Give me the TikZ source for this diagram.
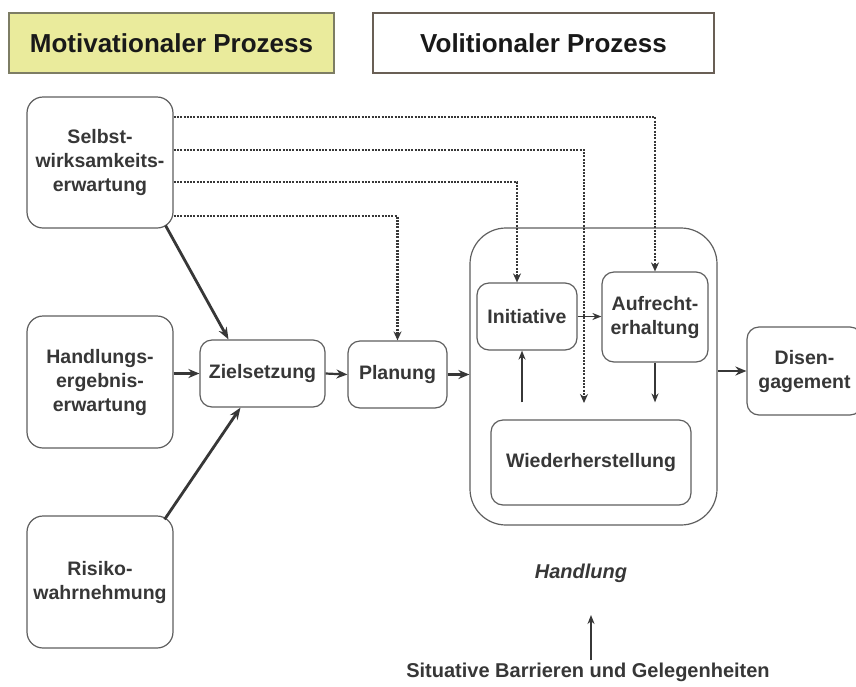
\documentclass[tikz,border=0pt]{standalone}
\usepackage{fontspec}
\setmainfont{Liberation Sans}
\usetikzlibrary{arrows.meta}

\definecolor{boxline}{RGB}{95,95,95}
\definecolor{boxtext}{RGB}{55,55,55}
\definecolor{motfill}{RGB}{234,235,156}
\definecolor{motline}{RGB}{125,125,100}
\definecolor{volline}{RGB}{105,95,85}
\definecolor{arrowcol}{RGB}{55,55,55}

\begin{document}
\begin{tikzpicture}[x=1pt,y=-1pt,
  title/.style={draw, line width=2pt, minimum height=60pt, inner sep=0pt,
    text=black!90, font=\fontsize{26}{30}\selectfont\bfseries},
  stage/.style={draw=boxline, line width=1.2pt, rounded corners=12pt, inner sep=0pt,
    align=center, text=boxtext, font=\fontsize{19.5}{24}\selectfont\bfseries},
  bigstage/.style={stage, rounded corners=16pt},
  solidarrow/.style={draw=arrowcol, line width=2.2pt, -{Stealth[length=11pt,width=9pt]}},
  thickarrow/.style={draw=arrowcol, line width=2.8pt, -{Stealth[length=12pt,width=9pt]}},
  thinarrow/.style={draw=arrowcol, line width=1.5pt, -{Stealth[length=9pt,width=7pt]}},
  dotarrow/.style={draw=arrowcol, line width=2.4pt, dash pattern=on 2pt off 1.3pt,
    -{Stealth[length=9pt,width=8pt]}}]

\fill[white] (0,0) rectangle (856,686);
\useasboundingbox (0,0) rectangle (856,686);

% phase headers
\node[title, fill=motfill, draw=motline, minimum width=325pt] (mot) at (171.5,43) {Motivationaler Prozess};
\node[title, fill=white, draw=volline, minimum width=341pt] (vol) at (543.5,43) {Volitionaler Prozess};

% motivational phase
\node[bigstage, minimum width=146pt, minimum height=131pt] (selbst) at (100,162.5)
  {Selbst-\\wirksamkeits-\\erwartung};
\node[bigstage, minimum width=146pt, minimum height=132pt] (handl) at (100,382)
  {Handlungs-\\ergebnis-\\erwartung};
\node[bigstage, minimum width=146pt, minimum height=132pt] (risiko) at (100,582)
  {Risiko-\\wahrnehmung};

\node[stage, minimum width=125pt, minimum height=67pt] (ziel) at (262.5,373.5) {Zielsetzung};
\node[stage, minimum width=99pt, minimum height=67pt] (planung) at (397.5,374.5) {Planung};

% volitional phase: action block
\node[stage, rounded corners=36pt, minimum width=247pt, minimum height=297pt] (handlung) at (593.5,376.5) {};
\node[stage, minimum width=100pt, minimum height=67pt] (init) at (527,316.5) {Initiative};
\node[stage, minimum width=106pt, minimum height=90pt] (aufr) at (655,317) {Aufrecht-\\erhaltung};
\node[stage, minimum width=200pt, minimum height=85pt] (wieder) at (591,462.5) {Wiederherstellung};
\node[stage, minimum width=115pt, minimum height=88pt] (diseng) at (804.5,371) {Disen-\\gagement};

\node[text=boxtext, font=\fontsize{20}{24}\selectfont\bfseries\itshape] (hlabel) at (581,573) {Handlung};
\node[inner sep=2pt, text=boxtext, font=\fontsize{20}{22}\selectfont\bfseries] (situ) at (588,672)
  {Situative Barrieren und Gelegenheiten};

% helper points
\coordinate (d1) at (0,117);
\coordinate (d2) at (0,150);
\coordinate (d3) at (0,182);
\coordinate (d4) at (0,216);
\coordinate (dropend) at (584,403);
\coordinate (wtop) at ([yshift=17pt]wieder.north);
\coordinate (situtip) at (591,615);

% main flow
\draw[solidarrow] (handl.east |- ziel.west) -- (ziel.west);
\draw[solidarrow] (ziel.east) -- (planung.west);
\draw[solidarrow] (planung.east) -- (handlung.west |- planung.east);
\draw[solidarrow] (handlung.east |- diseng.west) -- (diseng.west);
\draw[thickarrow] ([xshift=-8pt,yshift=3pt]selbst.south east) -- ([xshift=-34pt]ziel.north);
\draw[thickarrow] ([xshift=-9pt,yshift=-4pt]risiko.north east) -- ([xshift=-22pt]ziel.south);

% inside the action block
\draw[thinarrow] (init.east) -- (aufr.west |- init.east);
\draw[thinarrow] ([xshift=-5pt]init.south |- wtop) -- ([xshift=-5pt]init.south);
\draw[thinarrow] (aufr.south) -- (aufr.south |- wtop);

% influence of self-efficacy
\draw[dotarrow] (selbst.east |- d1) -| (aufr.north);
\draw[dotarrow] (selbst.east |- d2) -| (dropend);
\draw[dotarrow] (selbst.east |- d3) -| ([xshift=-10pt]init.north);
\draw[dotarrow] (selbst.east |- d4) -| (planung.north);

% situational factors
\draw[thinarrow] (situ.north -| situtip) -- (situtip);
\end{tikzpicture}
\end{document}
